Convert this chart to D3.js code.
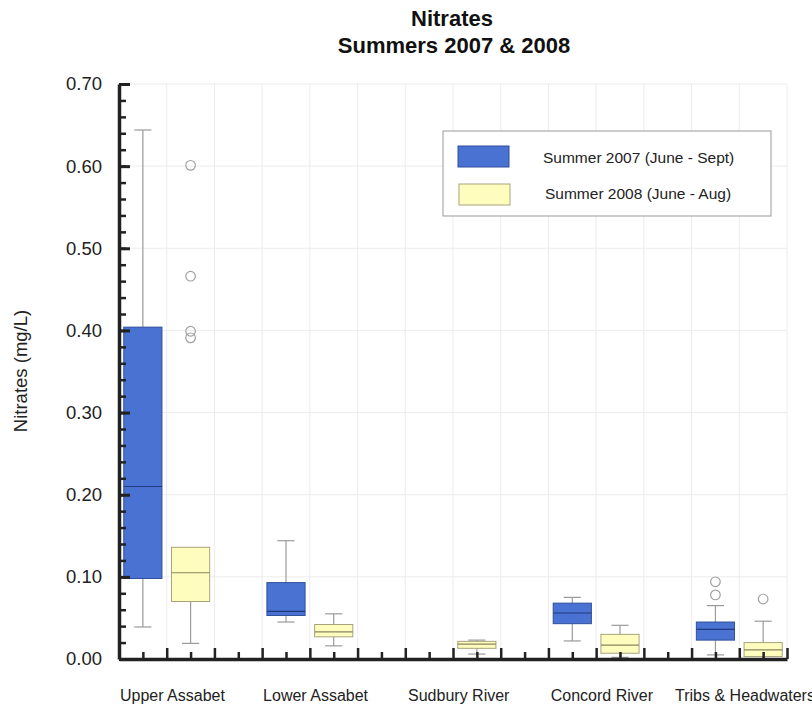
<!DOCTYPE html>
<html><head><meta charset="utf-8">
<script src="https://cdn.jsdelivr.net/npm/d3@7"></script>
<style>body{margin:0;background:#fff}svg{display:block}</style>
</head><body>
<svg id="c" width="812" height="706"></svg>
<script>
const categories = ["Upper Assabet","Lower Assabet","Sudbury River","Concord River","Tribs & Headwaters"];
const seriesNames = ["Summer 2007 (June - Sept)","Summer 2008 (June - Aug)"];
// 2007 box stats: [whiskerLow, q1, median, q3, whiskerHigh]
const stats2007 = [
  [0.039,0.098,0.210,0.404,0.644],
  [0.045,0.053,0.058,0.093,0.144],
  null,
  [0.022,0.043,0.056,0.068,0.075],
  [0.005,0.023,0.036,0.045,0.065]
];
const outliers2007 = [[],[],[],[],[0.078,0.094]];
const stats2008 = [
  [0.019,0.070,0.105,0.136,0.136],
  [0.016,0.027,0.033,0.042,0.055],
  [0.006,0.013,0.018,0.0215,0.023],
  [0.002,0.007,0.017,0.030,0.041],
  [0.000,0.003,0.011,0.020,0.046]
];
const outliers2008 = [[0.391,0.399,0.466,0.601],[],[],[],[0.073]];
const yTicks = [0,0.1,0.2,0.3,0.4,0.5,0.6,0.7];

const svg = d3.select("#c");
const x = d3.scaleLinear().domain([0,14]).range([119,787]);
const y = d3.scaleLinear().domain([0,0.7]).range([659,84]);

const colors = [{fill:"#4a72d2",stroke:"#2f4f9e",med:"#1f3a80"},{fill:"#fefdbe",stroke:"#a8a47c",med:"#8a8660"}];
const font = "'Liberation Sans', Arial, sans-serif";

// grid
const g = svg.append("g");
g.selectAll("line.hg").data(yTicks.slice(1)).join("line")
  .attr("x1",x(0)).attr("x2",x(14)).attr("y1",d=>y(d)).attr("y2",d=>y(d))
  .attr("stroke","#ececec").attr("stroke-width",1);
g.selectAll("line.vg").data(d3.range(1,15)).join("line")
  .attr("x1",d=>x(d)).attr("x2",d=>x(d)).attr("y1",y(0)).attr("y2",y(0.7))
  .attr("stroke","#ececec").attr("stroke-width",1);

// boxes
const bw = 0.8, cw = 0.36;
function drawBox(st, outs, xc, col){
  const gg = svg.append("g");
  if(st){
    const [lo,q1,md,q3,hi] = st;
    gg.append("line").attr("x1",x(xc)).attr("x2",x(xc)).attr("y1",y(q3)).attr("y2",y(hi)).attr("stroke","#9a9a9a").attr("stroke-width",1.2);
    gg.append("line").attr("x1",x(xc)).attr("x2",x(xc)).attr("y1",y(q1)).attr("y2",y(lo)).attr("stroke","#9a9a9a").attr("stroke-width",1.2);
    if(hi>q3) gg.append("line").attr("x1",x(xc-cw/2)).attr("x2",x(xc+cw/2)).attr("y1",y(hi)).attr("y2",y(hi)).attr("stroke","#9a9a9a").attr("stroke-width",1.2);
    gg.append("line").attr("x1",x(xc-cw/2)).attr("x2",x(xc+cw/2)).attr("y1",y(lo)).attr("y2",y(lo)).attr("stroke","#9a9a9a").attr("stroke-width",1.2);
    gg.append("rect").attr("x",x(xc-bw/2)).attr("width",x(bw)-x(0))
      .attr("y",y(q3)).attr("height",y(q1)-y(q3))
      .attr("fill",col.fill).attr("stroke",col.stroke).attr("stroke-width",1);
    gg.append("line").attr("x1",x(xc-bw/2)).attr("x2",x(xc+bw/2)).attr("y1",y(md)).attr("y2",y(md)).attr("stroke",col.med).attr("stroke-width",1.2);
  }
  gg.selectAll("circle").data(outs).join("circle")
    .attr("cx",x(xc)).attr("cy",d=>y(d)).attr("r",4.8)
    .attr("fill","none").attr("stroke","#a0a0a0").attr("stroke-width",1.2);
}
categories.forEach((c,i)=>{
  drawBox(stats2007[i], outliers2007[i], 3*i+0.5, colors[0]);
  drawBox(stats2008[i], outliers2008[i], 3*i+1.5, colors[1]);
});

// y axis
const yMajor = d3.axisLeft(y).tickValues(yTicks).tickFormat(d3.format(".2f")).tickSizeInner(-11).tickSizeOuter(0).tickPadding(17);
const ya = svg.append("g").attr("transform",`translate(${x(0)},0)`).call(yMajor);
ya.select(".domain").attr("stroke","#222").attr("stroke-width",3.5);
ya.selectAll(".tick line").attr("stroke","#222").attr("stroke-width",3);
ya.selectAll(".tick text").attr("font-family",font).attr("font-size",18.5).attr("fill","#222");
const yMinor = d3.axisLeft(y).tickValues(d3.range(0,71,2).map(v=>v/100)).tickFormat("").tickSizeInner(-7).tickSizeOuter(0);
const ym = svg.append("g").attr("transform",`translate(${x(0)},0)`).call(yMinor);
ym.select(".domain").remove();
ym.selectAll(".tick line").attr("stroke","#222").attr("stroke-width",2.5);

// x axis
const xMajor = d3.axisBottom(x).tickValues(d3.range(1,15)).tickFormat("").tickSizeInner(-11).tickSizeOuter(0);
const xa = svg.append("g").attr("transform",`translate(0,${y(0)})`).call(xMajor);
xa.select(".domain").attr("stroke","#222").attr("stroke-width",3.5);
xa.selectAll(".tick line").attr("stroke","#222").attr("stroke-width",2.5);
const xMinor = d3.axisBottom(x).tickValues(d3.range(0,14).map(v=>v+0.5)).tickFormat("").tickSizeInner(-7).tickSizeOuter(0);
const xm = svg.append("g").attr("transform",`translate(0,${y(0)})`).call(xMinor);
xm.select(".domain").remove();
xm.selectAll(".tick line").attr("stroke","#222").attr("stroke-width",2.5);

// category labels
svg.selectAll("text.cat").data(categories).join("text")
  .attr("x",(d,i)=>x(3*i+1.12)).attr("y",701).attr("text-anchor","middle")
  .attr("font-family",font).attr("font-size",16).attr("fill","#222")
  .text(d=>d);

// y label
svg.append("text").attr("transform","translate(27,371) rotate(-90)").attr("text-anchor","middle")
  .attr("font-family",font).attr("font-size",18.5).attr("fill","#222")
  .text("Nitrates (mg/L)");

// title
svg.append("text").attr("x",452).attr("y",26).attr("text-anchor","middle").attr("font-family",font).attr("font-weight","bold").attr("font-size",22).attr("fill","#111").text("Nitrates");
svg.append("text").attr("x",454).attr("y",53).attr("text-anchor","middle").attr("font-family",font).attr("font-weight","bold").attr("font-size",22).attr("fill","#111").text("Summers 2007 & 2008");

// legend
const lg = svg.append("g");
lg.append("rect").attr("x",443).attr("y",131).attr("width",328).attr("height",85).attr("fill","#fff").attr("stroke","#999").attr("stroke-width",1);
seriesNames.forEach((s,i)=>{
  lg.append("rect").attr("x",458+i).attr("y",146+i*38).attr("width",51).attr("height",21)
    .attr("fill",colors[i].fill).attr("stroke",colors[i].stroke).attr("stroke-width",1);
  lg.append("text").attr("x",543+i*2).attr("y",163+i*36)
    .attr("font-family",font).attr("font-size",15.5).attr("fill","#222").text(s);
});
</script>
</body></html>
